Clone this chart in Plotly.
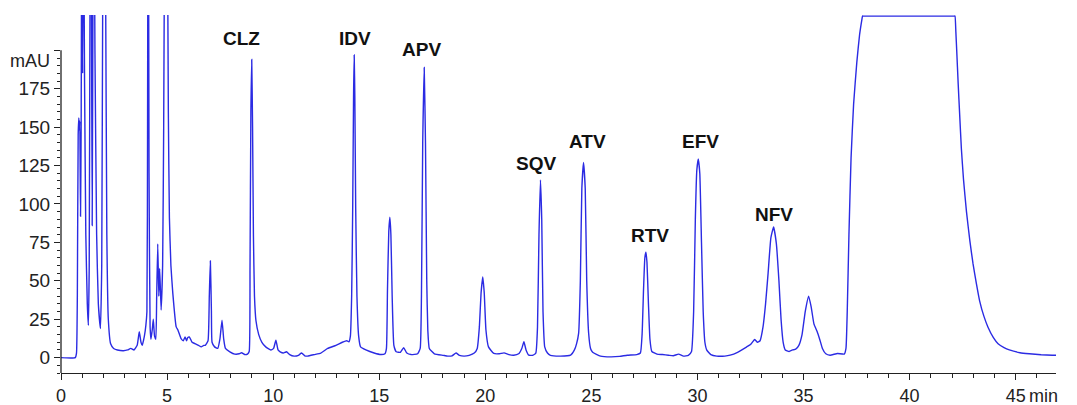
import plotly.graph_objects as go

# Chromatogram trace (time in min, absorbance in mAU)
time_min = [
    0.0, 0.67, 0.73, 0.77, 0.81, 0.84, 0.866, 0.886, 0.92, 0.95, 0.98, 1.02, 1.06, 1.11, 1.17, 1.24, 1.29,
    1.33, 1.37, 1.41, 1.47, 1.51, 1.55, 1.60, 1.68, 1.76, 1.86, 1.92, 1.97, 2.04, 2.10, 2.16, 2.23, 2.34,
    2.48, 2.66, 2.94, 3.14, 3.29, 3.44, 3.59, 3.69, 3.77, 3.83, 3.93, 4.00, 4.05, 4.08, 4.11, 4.15, 4.20,
    4.24, 4.30, 4.35, 4.41, 4.47, 4.51, 4.56, 4.61, 4.65, 4.72, 4.79, 4.84, 4.89, 4.95, 5.01, 5.06, 5.11,
    5.18, 5.27, 5.43, 5.51, 5.66, 5.77, 5.85, 5.92, 5.97, 6.05, 6.18, 6.30, 6.48, 6.61, 6.73, 6.80, 6.93,
    6.99, 7.04, 7.09, 7.12, 7.24, 7.39, 7.49, 7.59, 7.67, 7.75, 7.96, 8.19, 8.40, 8.51, 8.66, 8.79,
    8.87, 8.91, 8.95, 8.99, 9.03, 9.07, 9.12, 9.19, 9.32, 9.47, 9.65, 9.89, 10.02, 10.13, 10.23, 10.33,
    10.48, 10.63, 10.78, 10.99, 11.19, 11.34, 11.49, 11.62, 11.94, 12.25, 12.57, 12.96, 13.26, 13.47, 13.57,
    13.64, 13.70, 13.75, 13.79, 13.82, 13.85, 13.89, 13.95, 14.03, 14.12, 14.37, 14.76, 15.08,
    15.27, 15.34, 15.39, 15.45, 15.50, 15.55, 15.61, 15.69, 15.80, 16.00, 16.15, 16.30, 16.50,
    16.81, 16.93, 16.99, 17.05, 17.12, 17.18, 17.24, 17.29, 17.36, 17.60, 18.02, 18.23, 18.43, 18.62,
    18.78, 19.00, 19.24, 19.48, 19.62, 19.72, 19.80, 19.88, 19.95, 20.03, 20.15, 20.40, 20.66, 20.88,
    21.11, 21.34, 21.57, 21.72, 21.82, 21.92, 22.05, 22.22, 22.38, 22.46, 22.53, 22.60, 22.66, 22.72,
    22.80, 22.93, 23.07, 23.54, 24.02, 24.20, 24.30, 24.40, 24.48, 24.55, 24.63, 24.71, 24.78, 24.87,
    24.96, 25.06, 25.43, 25.91, 26.33, 26.69, 27.14, 27.31, 27.39, 27.46, 27.52, 27.57, 27.62, 27.69,
    27.76, 27.85, 28.09, 28.35, 28.63, 28.86, 29.11, 29.34, 29.57, 29.72, 29.82, 29.90, 29.97, 30.04,
    30.11, 30.19, 30.27, 30.35, 30.44, 30.63, 30.91, 31.29, 31.54, 31.89, 32.32, 32.50, 32.70, 32.83,
    32.95, 33.09, 33.21, 33.33, 33.46, 33.59, 33.72, 33.84, 33.94, 34.04, 34.14, 34.32, 34.48, 34.63,
    34.78, 34.93, 35.08, 35.24, 35.36, 35.49, 35.64, 35.76, 35.89, 36.05, 36.25, 36.60, 36.92, 37.00,
    37.06, 37.14, 37.24, 37.36, 37.51, 37.64, 37.75, 37.78, 37.81, 42.11, 42.14, 42.18, 42.22, 42.29,
    42.36, 42.44, 42.54, 42.68, 42.84, 42.99, 43.15, 43.30, 43.50, 43.69, 43.95, 44.17, 44.45, 44.70,
    45.20, 45.64, 46.20, 46.73, 47.30,
]
signal_mau = [
    0, 0, 3, 40, 145, 156, 148, 154, 92, 150, 300, 185, 310, 180, 80, 35, 21,
    60, 250, 330, 86, 250, 330, 200, 80, 35, 19, 60, 250, 350, 250, 80, 25, 9,
    6, 5, 4.5, 5, 6, 5, 8, 16.8, 10, 8, 14, 21, 30, 150, 380, 120, 20,
    12, 18, 25, 14, 12, 40, 74, 40, 58, 31, 60, 150, 300, 380, 300, 160, 91,
    60, 42, 20, 18, 12.4, 11, 13.5, 11, 13, 13.5, 10, 9.2, 8, 7, 8, 8, 11,
    40, 63, 30, 10, 7, 6, 12, 24.4, 12, 6, 3.8, 2.3, 2.5, 3.2, 2, 2.3,
    4, 60, 160, 194, 150, 80, 40, 24, 15, 10, 7, 5, 6, 11.4, 5, 3.8,
    3.0, 3.8, 2, 1, 1.5, 3, 1.2, 1, 2, 3, 6, 8, 10, 11, 10.3,
    14, 40, 98, 170, 197, 170, 98, 40, 14, 7, 5, 3, 2,
    2.5, 6, 45, 82, 91.4, 80, 40, 8, 3.8, 3.5, 6.5, 3, 2,
    2.5, 6, 40, 140, 188.8, 140, 50, 18, 6, 2.5, 1.5, 1, 1.2, 3,
    1.5, 1, 1.5, 3, 6, 20, 42, 52.5, 42, 18, 7, 2.7, 2.5, 3.1,
    2, 1.6, 2.5, 6, 10.3, 5, 1.6, 1.5, 3, 20, 80, 115.7, 90, 30,
    7, 3, 1.5, 1, 1.6, 5, 9, 16, 50, 110, 127, 110, 50, 16,
    6, 3.5, 1, 0.5, 0.8, 1.6, 2, 3, 15, 45, 65, 68.7, 62, 35,
    12, 4, 2.3, 2, 1.6, 1.2, 2.3, 1, 1.5, 4, 30, 90, 122, 129.3,
    120, 75, 30, 10, 4.9, 2, 1, 1, 1.6, 3.5, 7, 8.5, 11.8, 10,
    11, 20, 35, 55, 78, 85, 74, 50, 25, 10, 5, 4, 5, 5.5,
    8, 15, 30, 40, 33, 22, 17, 12, 6, 2.5, 1.6, 2.7, 2.3, 6,
    30, 80, 130, 165, 192, 210, 220, 222.3, 222.3, 222.3, 222.3, 212, 200, 178,
    158, 136, 116, 95, 76, 61, 48, 37, 27, 20, 13, 9, 6.5, 5,
    3.2, 2.5, 1.9, 1.6, 1.3,
]

# Peak labels
peak_names = ["CLZ", "IDV", "APV", "SQV", "ATV", "RTV", "EFV", "NFV"]
label_time = [8.53, 13.84, 16.98, 22.38, 24.80, 27.74, 30.16, 33.63]
label_mau = [207.7, 207.5, 200.8, 126.6, 140.7, 79.5, 140.7, 93.2]

x_major = [0, 5, 10, 15, 20, 25, 30, 35, 40, 45]
x_minor = [v for v in range(0, 47) if v % 5 != 0]
y_major = [0, 25, 50, 75, 100, 125, 150, 175, 200]
y_major_text = ["0", "25", "50", "75", "100", "125", "150", "175", ""]
y_minor = [v for v in range(-10, 201, 5) if v % 25 != 0]

LINE = "#2b2be3"
AXIS = "#222222"
FONT = "Liberation Sans, Arial, sans-serif"

fig = go.Figure()
fig.add_trace(go.Scatter(
    x=time_min, y=signal_mau, mode="lines",
    line=dict(color=LINE, width=1.4, shape="spline", smoothing=0.4),
    hoverinfo="skip", showlegend=False,
))

for name, tx, ty in zip(peak_names, label_time, label_mau):
    fig.add_annotation(x=tx, y=ty, xref="x", yref="y", text="<b>%s</b>" % name,
                       showarrow=False, xanchor="center", yanchor="middle",
                       font=dict(family=FONT, size=19, color="#111111"))

fig.add_annotation(x=0, y=193, xref="paper", yref="y", text="mAU", showarrow=False,
                   xanchor="right", yanchor="middle", xshift=-9,
                   font=dict(family=FONT, size=18, color=AXIS))
fig.add_annotation(x=46.3, y=0, xref="x", yref="paper", text="min", showarrow=False,
                   xanchor="center", yanchor="top", yshift=-11,
                   font=dict(family=FONT, size=18, color=AXIS))

# y axis line (stops at 200 like the original)
fig.add_shape(type="line", xref="paper", yref="y", x0=0, x1=0, y0=-10, y1=200,
              line=dict(color=AXIS, width=1.3))

# the page body adds an 8px offset, so margins are compensated
fig.update_layout(
    width=1077, height=405,
    margin=dict(l=53, r=29, t=7, b=40),
    paper_bgcolor="white", plot_bgcolor="white",
    font=dict(family=FONT, color=AXIS),
    xaxis=dict(range=[0, 46.9], showgrid=False, zeroline=False,
               showline=True, linecolor=AXIS, linewidth=1.3,
               tickmode="array", tickvals=x_major, ticks="outside", ticklen=6,
               tickwidth=1.3, tickcolor=AXIS, tickfont=dict(size=18, family=FONT, color=AXIS),
               minor=dict(tickmode="array", tickvals=x_minor, ticks="outside", ticklen=4,
                          tickwidth=1.1, tickcolor=AXIS, showgrid=False)),
    yaxis=dict(range=[-10, 223], showgrid=False, zeroline=False, showline=False,
               tickmode="array", tickvals=y_major, ticktext=y_major_text,
               ticks="outside", ticklen=6, tickwidth=1.3, tickcolor=AXIS,
               tickfont=dict(size=19, family=FONT, color=AXIS),
               minor=dict(tickmode="array", tickvals=y_minor, ticks="outside", ticklen=3,
                          tickwidth=1.1, tickcolor=AXIS, showgrid=False)),
)

fig.write_html("out.html")
